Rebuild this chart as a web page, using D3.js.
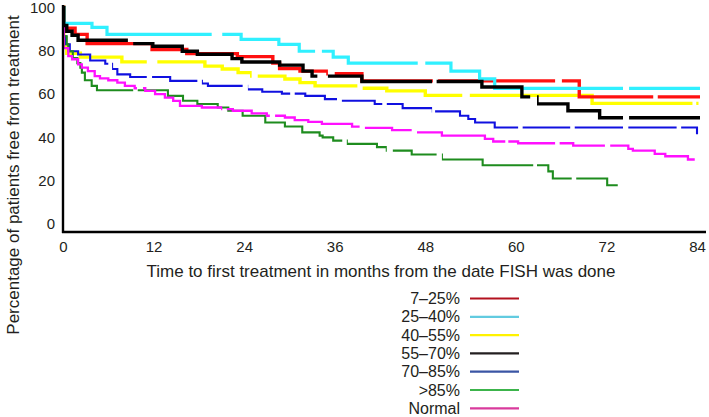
<!DOCTYPE html>
<html>
<head>
<meta charset="utf-8">
<script src="https://cdn.jsdelivr.net/npm/d3@7/dist/d3.min.js"></script>
<style>
  html, body { margin: 0; padding: 0; background: #fff; }
  svg { display: block; }
  text { font-family: "Liberation Sans", Arial, Helvetica, sans-serif; fill: #231f20; }
</style>
</head>
<body>
<svg id="chart" width="709" height="417"></svg>
<script>
// ---------- DATA ----------
const xTicks = [0, 12, 24, 36, 48, 60, 72, 84];
const yTicks = [0, 20, 40, 60, 80, 100];
const xTitle = "Time to first treatment in months from the date FISH was done";
const yTitle = "Percentage of patients free from treatment";
const legendLabels = ["7\u201325%", "25\u201340%", "40\u201355%", "55\u201370%", "70\u201385%", ">85%", "Normal"];

// step points [month, percent] (value holds from that month onward)
const s7_25 = [[0,100],[0.1,90.4],[1.6,87.6],[3.2,83.3],[11.8,80.6],[16.4,78.7],[23.1,77.3],[27.8,74.3],[28.7,71.8],[31.4,70.6],[35.1,69.4],[39.6,66.1],[68.4,58.7]];
const s25_40 = [[0,100],[0.13,92.7],[3.84,90.8],[5.83,87.6],[23.6,85.3],[28.6,83.0],[31.3,79.8],[35.8,77.1],[37.8,74.3],[51.4,70.6],[55.2,67.0],[57.2,62.6]];
const s40_55 = [[0,100],[0.1,82.0],[0.5,78.9],[2.3,77.1],[7.8,74.9],[18.8,72.9],[21.1,71.6],[23.2,69.9],[25.0,68.3],[29.4,67.0],[31.4,65.3],[33.4,63.8],[39.3,62.7],[42.9,61.5],[48.0,59.4],[70.1,55.7]];
const s55_70 = [[0,100],[0.1,91.7],[0.5,89.0],[1.2,87.2],[2.0,84.9],[8.9,83.3],[11.9,82.1],[15.8,79.8],[17.8,78.4],[22.4,76.4],[23.7,74.8],[28.7,73.4],[31.8,70.6],[33.0,68.3],[39.6,65.8],[55.5,63.3],[60.8,58.7],[62.8,55.5],[66.9,52.3],[71.1,49.1]];
const s70_85 = [[0,100],[0.1,86.7],[0.4,83.0],[0.9,79.8],[2.0,78.3],[3.6,75.5],[5.6,74.0],[6.5,71.6],[7.2,69.1],[8.9,67.9],[14.2,66.1],[18.4,64.9],[19.2,63.8],[24.4,62.2],[26.4,61.1],[29.0,60.2],[32.1,59.2],[34.7,57.7],[36.7,56.9],[41.3,55.4],[45.0,53.5],[49.0,52.0],[52.6,50.0],[53.7,48.5],[54.6,46.9],[57.2,44.6],[84.0,41.4]];
const s85 = [[0,100],[0.1,86.7],[0.5,83.0],[0.7,79.8],[1.3,76.6],[1.9,74.3],[2.3,72.2],[2.5,69.9],[2.9,66.4],[3.8,63.8],[4.5,61.8],[13.9,59.2],[15.9,56.9],[17.8,55.4],[20.5,53.8],[21.9,52.3],[23.8,50.0],[26.8,46.9],[29.4,45.0],[31.7,42.3],[34.0,40.8],[34.4,40.0],[35.8,38.5],[37.6,37.0],[41.6,35.5],[42.9,33.9],[46.2,32.1],[50.2,29.8],[55.6,27.1],[64.3,24.3],[64.9,21.0],[72.1,17.9]];
const sNormal = [[0,100],[0.1,81.2],[0.7,77.5],[1.2,76.1],[2.0,73.7],[2.5,72.2],[3.3,70.6],[4.2,68.3],[4.9,67.3],[6.0,66.4],[7.2,65.3],[8.2,63.8],[9.5,62.7],[10.9,61.5],[12.2,60.0],[13.5,58.4],[14.6,56.9],[15.5,54.6],[18.4,53.8],[21.1,53.1],[22.5,52.3],[25.0,51.1],[27.0,50.0],[29.4,49.2],[30.7,48.0],[32.5,47.2],[34.3,46.2],[38.3,45.0],[39.6,44.4],[43.6,43.4],[46.6,42.3],[50.2,40.8],[55.9,39.3],[57.0,38.1],[60.3,37.3],[67.6,36.2],[74.9,34.7],[75.5,33.9],[78.4,32.4],[79.8,31.3],[82.8,29.8]];

// last follow-up month of each curve
const endMonths = [84.4, 84.4, 84.2, 84.4, 84.0, 73.5, 83.7];

// breaks in the drawn curves [fromMonth, toMonth]
const g7_25 = [[35.1,36.0],[49.0,49.7],[65.2,66.1],[78.2,78.8]];
const g25_40 = [[19.7,21.1],[33.4,34.3],[47.0,48.0],[74.2,75.0]];
const g40_55 = [[11.1,12.5],[25.0,25.8],[39.0,39.7],[52.9,53.9],[83.4,83.9]];
const g55_70 = [[8.6,9.3],[33.7,35.1],[48.9,49.5],[61.9,62.8],[74.2,75.0]];
const g70_85 = [[6.0,6.5],[11.1,11.8],[17.8,18.4],[23.8,24.5],[30.1,30.7],[36.3,36.95],[42.3,42.9],[48.9,49.3],[60.3,60.9],[67.2,67.8],[74.2,74.9],[81.3,81.9]];
const g85 = [[9.3,9.9],[37.0,37.6],[42.9,43.7],[49.5,50.2],[62.3,62.8],[67.4,68.0]];
const gNormal = [[9.8,10.6],[21.1,21.7],[27.4,28.1],[39.3,40.0],[46.2,46.9],[58.6,59.0],[65.2,65.8],[71.8,72.5]];

// ---------- STYLE ----------
const curveColors = ["#ff1010", "#30f0ff", "#ffff00", "#000000", "#1010e0", "#1e8c1e", "#ff10ff"];
const legendColors = ["#b3121f", "#62cbe0", "#fff200", "#231f20", "#3a55a4", "#3cb44b", "#d93a9c"];
const curveWidths = [3.4, 3.2, 3.4, 3.4, 2.1, 2.1, 2.3];
const drawOrder = [2, 0, 1, 4, 5, 6, 3];

const series = [s7_25, s25_40, s40_55, s55_70, s70_85, s85, sNormal];
const gaps = [g7_25, g25_40, g40_55, g55_70, g70_85, g85, gNormal];

// ---------- SCALES ----------
const svg = d3.select("#chart");
const x = d3.scaleLinear().domain([0, 84]).range([63, 697]);
const y = d3.scaleLinear().domain([-3.7, 100]).range([232, 7.5]);

// ---------- CURVES ----------
const defs = svg.append("defs");
const line = d3.line().x(d => x(d[0])).y(d => y(d[1])).curve(d3.curveStepAfter);

drawOrder.forEach(i => {
  const pts = series[i].slice();
  const last = pts[pts.length - 1];
  if (endMonths[i] > last[0]) pts.push([endMonths[i], last[1]]);

  // visible intervals between gaps
  const vis = [];
  let start = -2;
  gaps[i].forEach(g => { vis.push([start, g[0]]); start = g[1]; });
  vis.push([start, endMonths[i] + 2]);

  const cp = defs.append("clipPath").attr("id", "clip" + i);
  cp.selectAll("rect").data(vis).join("rect")
    .attr("x", d => x(d[0]))
    .attr("width", d => Math.max(0, x(d[1]) - x(d[0])))
    .attr("y", 0).attr("height", 417);

  svg.append("path")
    .attr("d", line(pts))
    .attr("fill", "none")
    .attr("stroke", curveColors[i])
    .attr("stroke-width", curveWidths[i])
    .attr("stroke-linejoin", "miter")
    .attr("clip-path", "url(#clip" + i + ")");
});

// ---------- AXES ----------
const xAxis = svg.append("g")
  .attr("transform", "translate(0,232)")
  .call(d3.axisBottom(x).tickValues(xTicks).tickSize(0).tickPadding(9).tickFormat(d3.format("d")));
xAxis.select(".domain").attr("d", "M" + (x(0) - 1) + ",0H706").attr("stroke", "#000").attr("stroke-width", 2.4);
xAxis.selectAll("text").style("font-size", "15px").attr("fill", "#231f20").attr("font-family", null);

const yAxis = svg.append("g")
  .attr("transform", "translate(63,0)")
  .call(d3.axisLeft(y).tickValues(yTicks).tickSize(0).tickPadding(8).tickFormat(d3.format("d")));
yAxis.select(".domain").attr("d", "M0,233V5").attr("stroke", "#000").attr("stroke-width", 2.4);
yAxis.selectAll("text").style("font-size", "15px").attr("fill", "#231f20").attr("font-family", null);

// ---------- TITLES ----------
svg.append("text")
  .attr("x", 381).attr("y", 277)
  .attr("text-anchor", "middle")
  .style("font-size", "17px")
  .text(xTitle);

svg.append("text")
  .attr("transform", "translate(19,175) rotate(-90)")
  .attr("text-anchor", "middle")
  .style("font-size", "17px")
  .text(yTitle);

// ---------- LEGEND ----------
const leg = svg.append("g");
legendLabels.forEach((lab, i) => {
  const ly = 298.5 + i * 18.3;
  leg.append("text")
    .attr("x", 460).attr("y", ly)
    .attr("dy", "0.35em")
    .attr("text-anchor", "end")
    .style("font-size", "16px")
    .text(lab);
  leg.append("line")
    .attr("x1", 470).attr("x2", 519)
    .attr("y1", ly).attr("y2", ly)
    .attr("stroke", legendColors[i])
    .attr("stroke-width", 2.2);
});
</script>
</body>
</html>
